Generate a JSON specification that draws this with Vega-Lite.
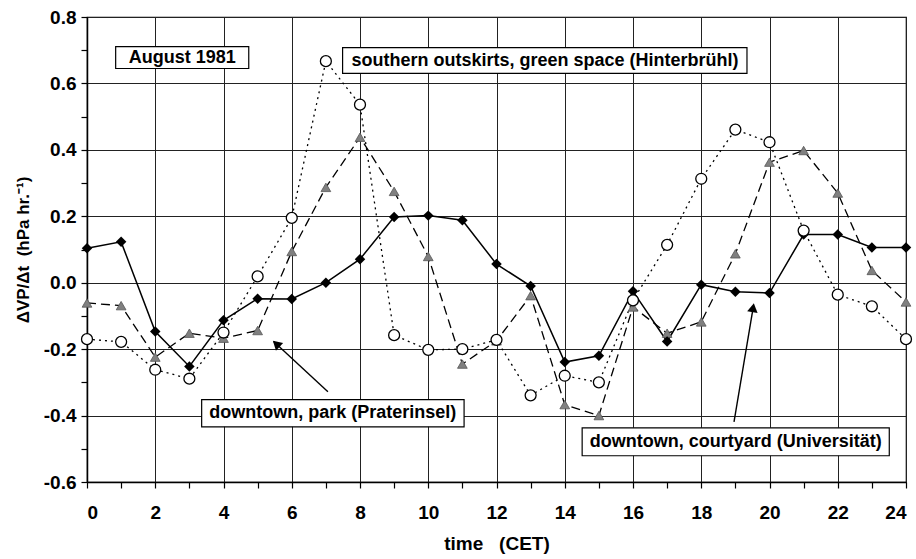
{
  "$schema": "https://vega.github.io/schema/vega-lite/v6.json",
  "width": 819,
  "height": 465,
  "autosize": {"type": "none"},
  "padding": {"left": 87, "top": 17, "right": 10, "bottom": 77},
  "background": "white",
  "config": {
    "view": {"stroke": "black", "strokeWidth": 1.2},
    "font": "Liberation Sans",
    "axis": {
      "labelFont": "Liberation Sans", "labelFontWeight": "bold", "labelFontSize": 19, "labelColor": "black",
      "titleFont": "Liberation Sans", "titleFontWeight": "bold", "titleFontSize": 18, "titleColor": "black",
      "domainColor": "black", "domainWidth": 1.5, "tickColor": "black", "tickWidth": 1.2, "tickSize": 6,
      "gridColor": "#222222", "gridWidth": 1
    }
  },
  "datasets": {
    "obs": [
      {"hour": 0, "series": "courtyard", "value": 0.104},
      {"hour": 1, "series": "courtyard", "value": 0.123},
      {"hour": 2, "series": "courtyard", "value": -0.147},
      {"hour": 3, "series": "courtyard", "value": -0.252},
      {"hour": 4, "series": "courtyard", "value": -0.113},
      {"hour": 5, "series": "courtyard", "value": -0.048},
      {"hour": 6, "series": "courtyard", "value": -0.049},
      {"hour": 7, "series": "courtyard", "value": 0.0},
      {"hour": 8, "series": "courtyard", "value": 0.071},
      {"hour": 9, "series": "courtyard", "value": 0.198},
      {"hour": 10, "series": "courtyard", "value": 0.202},
      {"hour": 11, "series": "courtyard", "value": 0.188},
      {"hour": 12, "series": "courtyard", "value": 0.056},
      {"hour": 13, "series": "courtyard", "value": -0.01},
      {"hour": 14, "series": "courtyard", "value": -0.239},
      {"hour": 15, "series": "courtyard", "value": -0.22},
      {"hour": 16, "series": "courtyard", "value": -0.026},
      {"hour": 17, "series": "courtyard", "value": -0.177},
      {"hour": 18, "series": "courtyard", "value": -0.006},
      {"hour": 19, "series": "courtyard", "value": -0.027},
      {"hour": 20, "series": "courtyard", "value": -0.031},
      {"hour": 21, "series": "courtyard", "value": 0.145},
      {"hour": 22, "series": "courtyard", "value": 0.145},
      {"hour": 23, "series": "courtyard", "value": 0.106},
      {"hour": 24, "series": "courtyard", "value": 0.106},
      {"hour": 0, "series": "park", "value": -0.061},
      {"hour": 1, "series": "park", "value": -0.069},
      {"hour": 2, "series": "park", "value": -0.224},
      {"hour": 3, "series": "park", "value": -0.152},
      {"hour": 4, "series": "park", "value": -0.167},
      {"hour": 5, "series": "park", "value": -0.144},
      {"hour": 6, "series": "park", "value": 0.094},
      {"hour": 7, "series": "park", "value": 0.287},
      {"hour": 8, "series": "park", "value": 0.438},
      {"hour": 9, "series": "park", "value": 0.275},
      {"hour": 10, "series": "park", "value": 0.079},
      {"hour": 11, "series": "park", "value": -0.245},
      {"hour": 12, "series": "park", "value": -0.175},
      {"hour": 13, "series": "park", "value": -0.039},
      {"hour": 14, "series": "park", "value": -0.367},
      {"hour": 15, "series": "park", "value": -0.4},
      {"hour": 16, "series": "park", "value": -0.073},
      {"hour": 17, "series": "park", "value": -0.152},
      {"hour": 18, "series": "park", "value": -0.118},
      {"hour": 19, "series": "park", "value": 0.087},
      {"hour": 20, "series": "park", "value": 0.363},
      {"hour": 21, "series": "park", "value": 0.398},
      {"hour": 22, "series": "park", "value": 0.27},
      {"hour": 23, "series": "park", "value": 0.037},
      {"hour": 24, "series": "park", "value": -0.058},
      {"hour": 0, "series": "outskirts", "value": -0.17},
      {"hour": 1, "series": "outskirts", "value": -0.178},
      {"hour": 2, "series": "outskirts", "value": -0.262},
      {"hour": 3, "series": "outskirts", "value": -0.289},
      {"hour": 4, "series": "outskirts", "value": -0.15},
      {"hour": 5, "series": "outskirts", "value": 0.019},
      {"hour": 6, "series": "outskirts", "value": 0.195},
      {"hour": 7, "series": "outskirts", "value": 0.667},
      {"hour": 8, "series": "outskirts", "value": 0.536},
      {"hour": 9, "series": "outskirts", "value": -0.158},
      {"hour": 10, "series": "outskirts", "value": -0.202},
      {"hour": 11, "series": "outskirts", "value": -0.2},
      {"hour": 12, "series": "outskirts", "value": -0.172},
      {"hour": 13, "series": "outskirts", "value": -0.339},
      {"hour": 14, "series": "outskirts", "value": -0.28},
      {"hour": 15, "series": "outskirts", "value": -0.3},
      {"hour": 16, "series": "outskirts", "value": -0.053},
      {"hour": 17, "series": "outskirts", "value": 0.114},
      {"hour": 18, "series": "outskirts", "value": 0.313},
      {"hour": 19, "series": "outskirts", "value": 0.461},
      {"hour": 20, "series": "outskirts", "value": 0.423},
      {"hour": 21, "series": "outskirts", "value": 0.157},
      {"hour": 22, "series": "outskirts", "value": -0.036},
      {"hour": 23, "series": "outskirts", "value": -0.071},
      {"hour": 24, "series": "outskirts", "value": -0.17}
    ],
    "boxes": [
      {"label": "August 1981", "x1": 0.84, "x2": 4.74, "y1": 0.645, "y2": 0.711, "xc": 2.79, "yc": 0.678},
      {"label": "southern outskirts, green space (Hinterbrühl)", "x1": 7.49, "x2": 19.34, "y1": 0.63, "y2": 0.708, "xc": 13.42, "yc": 0.669},
      {"label": "downtown, park (Praterinsel)", "x1": 3.36, "x2": 11.05, "y1": -0.434, "y2": -0.352, "xc": 7.2, "yc": -0.393},
      {"label": "downtown, courtyard (Universität)", "x1": 14.51, "x2": 23.51, "y1": -0.521, "y2": -0.437, "xc": 19.01, "yc": -0.479}
    ],
    "arrows": [
      {"name": "park", "x0": 7.06, "y0": -0.328, "xt": 5.47, "yt": -0.177, "xh": 5.545, "yh": -0.184},
      {"name": "courtyard", "x0": 18.96, "y0": -0.419, "xt": 19.53, "yt": -0.07, "xh": 19.52, "yh": -0.075}
    ]
  },
  "encoding": {
    "x": {
      "field": "hour", "type": "quantitative",
      "scale": {"domain": [0, 24], "nice": false, "zero": false},
      "axis": {
        "values": [0,1,2,3,4,5,6,7,8,9,10,11,12,13,14,15,16,17,18,19,20,21,22,23,24],
        "labelExpr": "datum.value % 2 === 0 ? datum.label : ''",
        "gridOpacity": {"condition": {"test": "datum.value % 2 === 0", "value": 1}, "value": 0},
        "labelPadding": 15,
        "title": "time\u00a0\u00a0\u00a0(CET)",
        "titleFontSize": 19,
        "titlePadding": 12
      }
    },
    "y": {
      "field": "value", "type": "quantitative",
      "scale": {"domain": [-0.6, 0.8], "nice": false, "zero": false},
      "axis": {
        "values": [-0.6,-0.5,-0.4,-0.3,-0.2,-0.1,0,0.1,0.2,0.3,0.4,0.5,0.6,0.7,0.8],
        "labelExpr": "abs(round(datum.value*10)) % 2 === 0 ? (datum.value < -0.001 ? '-' : '') + format(abs(datum.value), '.1f') : ''",
        "gridOpacity": {"condition": {"test": "abs(round(datum.value*10)) % 2 === 0", "value": 1}, "value": 0},
        "labelPadding": 5,
        "title": "ΔVP/Δt\u00a0\u00a0(hPa hr.⁻¹)",
        "titleFontSize": 17,
        "titlePadding": 11
      }
    }
  },
  "layer": [
    {
      "data": {"name": "obs"},
      "transform": [{"filter": "datum.series === 'outskirts'"}],
      "mark": {"type": "line", "color": "black", "strokeWidth": 1.3, "strokeDash": [2, 4]}
    },
    {
      "data": {"name": "obs"},
      "transform": [{"filter": "datum.series === 'park'"}],
      "mark": {"type": "line", "color": "black", "strokeWidth": 1.3, "strokeDash": [9, 5]}
    },
    {
      "data": {"name": "obs"},
      "transform": [{"filter": "datum.series === 'courtyard'"}],
      "mark": {"type": "line", "color": "black", "strokeWidth": 1.5}
    },
    {
      "data": {"name": "obs"},
      "transform": [{"filter": "datum.series === 'park'"}],
      "mark": {"type": "point", "shape": "triangle-up", "filled": true, "fill": "#808080", "stroke": "#555555", "strokeWidth": 0.8, "size": 95, "opacity": 1}
    },
    {
      "data": {"name": "obs"},
      "transform": [{"filter": "datum.series === 'courtyard'"}],
      "mark": {"type": "point", "shape": "diamond", "filled": true, "fill": "black", "size": 110, "opacity": 1}
    },
    {
      "data": {"name": "obs"},
      "transform": [{"filter": "datum.series === 'outskirts'"}],
      "mark": {"type": "point", "shape": "circle", "filled": true, "fill": "white", "stroke": "black", "strokeWidth": 1.3, "size": 120, "opacity": 1}
    },
    {
      "data": {"name": "arrows"},
      "mark": {"type": "rule", "color": "black", "strokeWidth": 1.4},
      "encoding": {
        "x": {"field": "x0", "type": "quantitative"},
        "y": {"field": "y0", "type": "quantitative"},
        "x2": {"field": "xt"},
        "y2": {"field": "yt"}
      }
    },
    {
      "data": {"name": "arrows"},
      "transform": [{"filter": "datum.name === 'park'"}],
      "mark": {"type": "point", "shape": "triangle-up", "filled": true, "fill": "black", "size": 110, "angle": 313, "opacity": 1},
      "encoding": {
        "x": {"field": "xh", "type": "quantitative"},
        "y": {"field": "yh", "type": "quantitative"}
      }
    },
    {
      "data": {"name": "arrows"},
      "transform": [{"filter": "datum.name === 'courtyard'"}],
      "mark": {"type": "point", "shape": "triangle-up", "filled": true, "fill": "black", "size": 110, "angle": 9.5, "opacity": 1},
      "encoding": {
        "x": {"field": "xh", "type": "quantitative"},
        "y": {"field": "yh", "type": "quantitative"}
      }
    },
    {
      "data": {"name": "boxes"},
      "mark": {"type": "rect", "fill": "white", "stroke": "black", "strokeWidth": 1.2},
      "encoding": {
        "x": {"field": "x1", "type": "quantitative"},
        "x2": {"field": "x2"},
        "y": {"field": "y1", "type": "quantitative"},
        "y2": {"field": "y2"}
      }
    },
    {
      "data": {"name": "boxes"},
      "mark": {"type": "text", "font": "Liberation Sans", "fontWeight": "bold", "fontSize": 18, "color": "black", "align": "center", "baseline": "middle"},
      "encoding": {
        "x": {"field": "xc", "type": "quantitative"},
        "y": {"field": "yc", "type": "quantitative"},
        "text": {"field": "label"}
      }
    }
  ]
}
